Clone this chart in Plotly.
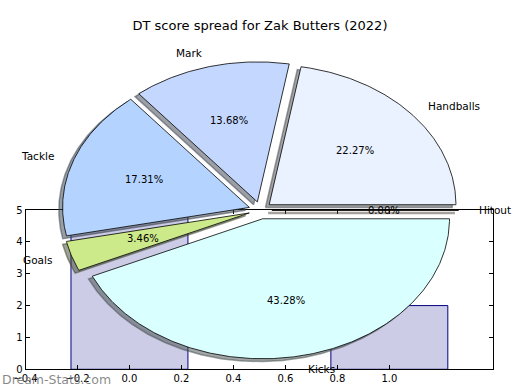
import numpy as np
import plotly.graph_objects as go

# ---- data ----
labels = ["Handballs", "Mark", "Tackle", "Goals", "Kicks", "Hitout"]
shares = [22.27, 13.68, 17.31, 3.46, 43.28, 0.00]
colors = ["#EAF2FF", "#C4D8FF", "#B4D4FF", "#CDEA8A", "#D9FFFF", "#FFE4C4"]
bar_x = [0, 1]
bar_y = [5, 2]
xtick_vals = [-0.4, -0.2, 0.0, 0.2, 0.4, 0.6, 0.8, 1.0]
ytick_vals = [0, 1, 2, 3, 4, 5]
title = "DT score spread for Zak Butters (2022)"
watermark = "Dream-Stats.com"

# ---- pie geometry (matplotlib-like: radius 1, explode, shadow) ----
EXPLODE = 0.062
SHADOW_DX, SHADOW_DY = -0.02, -0.02
LABEL_DIST = 1.1
PCT_DIST = 0.6
FONT = "DejaVu Sans"


def hex_rgb(h):
    h = h.lstrip("#")
    return tuple(int(h[i:i + 2], 16) for i in (0, 2, 4))


fig = go.Figure()

# bars on the lower axes
fig.add_trace(go.Bar(
    x=bar_x, y=bar_y, width=0.45,
    marker=dict(color="rgba(0,0,128,0.2)", line=dict(color="#000080", width=1)),
    xaxis="x", yaxis="y", hoverinfo="skip", showlegend=False,
))

total = float(sum(shares))
fracs = [s / total for s in shares]
starts = np.concatenate([[0.0], np.cumsum(fracs)[:-1]]) * 360.0
spans = np.array(fracs) * 360.0

wedges = []
for lab, f, st, sp, col in zip(labels, fracs, starts, spans, colors):
    mid = np.deg2rad(st + sp / 2.0)
    ox, oy = EXPLODE * np.cos(mid), EXPLODE * np.sin(mid)
    n = max(2, int(sp * 2) + 1)
    t = np.deg2rad(np.linspace(st, st + sp, n))
    xs = np.concatenate([[ox], ox + np.cos(t), [ox]])
    ys = np.concatenate([[oy], oy + np.sin(t), [oy]])
    wedges.append((lab, f, mid, ox, oy, xs, ys, col))

# shadows first (below all wedges)
for lab, f, mid, ox, oy, xs, ys, col in wedges:
    r, g, b = hex_rgb(col)
    sc = "rgba(%d,%d,%d,0.5)" % (int(r * 0.3), int(g * 0.3), int(b * 0.3))
    fig.add_trace(go.Scatter(
        x=xs + SHADOW_DX, y=ys + SHADOW_DY, mode="lines", fill="toself",
        fillcolor=sc, line=dict(color=sc, width=1.5 if f > 0 else 2.5),
        xaxis="x2", yaxis="y2", hoverinfo="skip", showlegend=False,
    ))

for lab, f, mid, ox, oy, xs, ys, col in wedges:
    fig.add_trace(go.Scatter(
        x=xs, y=ys, mode="lines", fill="toself", fillcolor=col,
        line=dict(color="black", width=0.8),
        xaxis="x2", yaxis="y2", hoverinfo="skip", showlegend=False,
    ))

annotations = []
for lab, f, mid, ox, oy, xs, ys, col in wedges:
    c, s = np.cos(mid), np.sin(mid)
    annotations.append(dict(
        x=ox + LABEL_DIST * c, y=oy + LABEL_DIST * s, xref="x2", yref="y2",
        text=lab, showarrow=False, xanchor="left" if c > 0 else "right",
        yanchor="middle", font=dict(family=FONT, size=10.5, color="black"),
    ))
    annotations.append(dict(
        x=ox + PCT_DIST * c, y=oy + PCT_DIST * s, xref="x2", yref="y2",
        text="%.2f%%" % (f * 100), showarrow=False, xanchor="center",
        yanchor="middle", font=dict(family=FONT, size=10, color="black"),
    ))

annotations.append(dict(
    x=0.0, y=1 - 379 / 390, xref="paper", yref="paper", text=watermark,
    showarrow=False, xanchor="left", yanchor="middle",
    font=dict(family=FONT, size=12.5, color="rgba(115,115,115,0.85)"),
))

axis_common = dict(
    showline=True, linecolor="black", linewidth=1, mirror="ticks",
    ticks="inside", ticklen=4, tickcolor="black", tickwidth=1,
    showgrid=False, zeroline=False, automargin=False,
    tickfont=dict(family=FONT, size=10, color="black"),
)

fig.update_layout(
    width=520, height=390,
    margin=dict(l=0, r=0, t=0, b=0, autoexpand=False),
    paper_bgcolor="white", plot_bgcolor="rgba(0,0,0,0)",
    showlegend=False,
    title=dict(text=title, x=0.5, xanchor="center", y=1 - 25 / 390,
               yanchor="middle", automargin=False,
               font=dict(family=FONT, size=13, color="black")),
    xaxis=dict(domain=[25.5 / 520, 493.3 / 520], range=[-0.4, 1.4],
               tickvals=xtick_vals, tickformat=".1f", anchor="y", **axis_common),
    yaxis=dict(domain=[20.7 / 390, 180 / 390], range=[0, 5],
               tickvals=ytick_vals, anchor="x", **axis_common),
    xaxis2=dict(domain=[0, 1], range=[-1.3935, 1.3903], visible=False,
                anchor="y2", fixedrange=True, automargin=False),
    yaxis2=dict(domain=[0, 1], range=[-1.2836, 1.5021], visible=False,
                anchor="x2", fixedrange=True, automargin=False),
    annotations=annotations,
    font=dict(family=FONT),
)

fig.write_html(
    "out.html",
    config={"displayModeBar": False, "staticPlot": True},
    post_script="document.body.style.margin='0px';document.body.style.padding='0px';",
)
